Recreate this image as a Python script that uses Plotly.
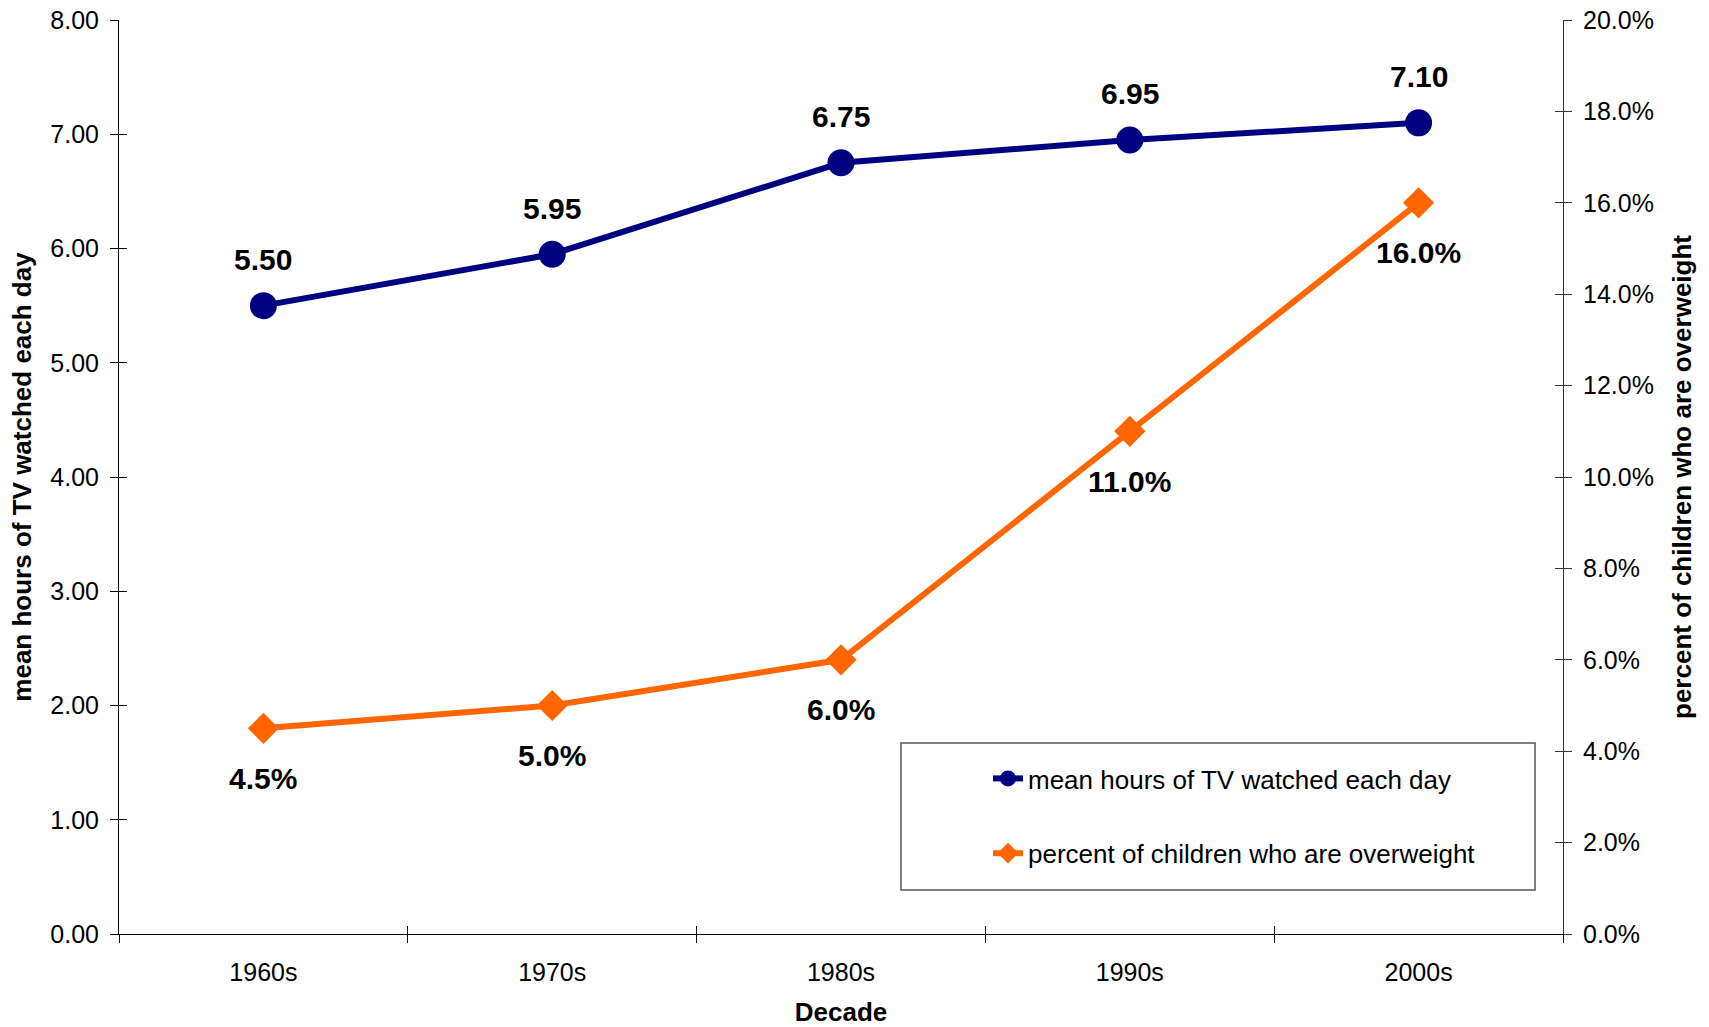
import plotly.graph_objects as go

# Data
decades = ["1960s", "1970s", "1980s", "1990s", "2000s"]
tv_hours = [5.50, 5.95, 6.75, 6.95, 7.10]
overweight_pct = [4.5, 5.0, 6.0, 11.0, 16.0]

left_ticks = [0, 1, 2, 3, 4, 5, 6, 7, 8]
right_ticks = [0, 2, 4, 6, 8, 10, 12, 14, 16, 18, 20]

NAVY = "#000080"
ORANGE = "#FF6600"
FONT = "Liberation Sans, Arial, Helvetica, sans-serif"

W, H = 1709, 1027
ML, MR, MT, MB = 119, 146, 20, 93
PW, PH = W - ML - MR, H - MT - MB

fig = go.Figure()

fig.add_trace(go.Scatter(
    x=decades, y=tv_hours, name="mean hours of TV watched each day",
    mode="lines+markers",
    line=dict(color=NAVY, width=6),
    marker=dict(symbol="circle", size=27, color=NAVY),
    legendgroup="a", xaxis="x", yaxis="y",
))

fig.add_trace(go.Scatter(
    x=decades, y=overweight_pct, name="percent of children who are overweight",
    mode="lines+markers",
    line=dict(color=ORANGE, width=6),
    marker=dict(symbol="diamond", size=24, color=ORANGE),
    legendgroup="b", xaxis="x", yaxis="y2",
))

# Empty helper traces so the inner-tick overlay axes get drawn
fig.add_trace(go.Scatter(x=[None], y=[None], xaxis="x2", yaxis="y3",
                         showlegend=False, hoverinfo="skip"))
fig.add_trace(go.Scatter(x=[None], y=[None], xaxis="x2", yaxis="y4",
                         showlegend=False, hoverinfo="skip"))

# Value labels: above the TV points, below the overweight points
label_font = dict(family=FONT, size=30, color="black", weight="bold")
for d, v in zip(decades, tv_hours):
    fig.add_annotation(x=d, y=v, xref="x", yref="y", text=f"{v:.2f}",
                       showarrow=False, yshift=46, font=label_font)
for d, v in zip(decades, overweight_pct):
    fig.add_annotation(x=d, y=v, xref="x", yref="y2", text=f"{v:.1f}%",
                       showarrow=False, yshift=-50, font=label_font)

tick_font = dict(family=FONT, size=25, color="black")
title_font = dict(family=FONT, size=26, color="black", weight="bold")

fig.update_layout(
    width=W, height=H,
    margin=dict(l=ML, r=MR, t=MT, b=MB, autoexpand=False),
    paper_bgcolor="white", plot_bgcolor="white",
    font=dict(family=FONT, color="black"),
    xaxis=dict(
        type="category", categoryorder="array", categoryarray=decades,
        range=[-0.5, 4.5], tickson="boundaries", automargin=False,
        ticks="outside", ticklen=8, tickwidth=1, tickcolor="black",
        showline=True, linecolor="black", linewidth=1,
        showgrid=False, zeroline=False,
        tickfont=tick_font, ticklabelstandoff=16,
        title=dict(text="Decade", font=title_font, standoff=23),
    ),
    xaxis2=dict(
        overlaying="x", range=[-0.5, 4.5], automargin=False,
        tickvals=[-0.5, 0.5, 1.5, 2.5, 3.5, 4.5],
        ticks="inside", ticklen=8, tickwidth=1, tickcolor="black",
        showticklabels=False, showgrid=False, zeroline=False, showline=False,
    ),
    yaxis=dict(
        range=[0, 8], tickvals=left_ticks,
        ticktext=[f"{v:.2f}" for v in left_ticks], automargin=False,
        ticks="outside", ticklen=8, tickwidth=1, tickcolor="black",
        showline=True, linecolor="black", linewidth=1,
        showgrid=False, zeroline=False,
        tickfont=tick_font, ticklabelstandoff=6,
        title=dict(text="mean hours of TV watched each day", font=title_font, standoff=11),
    ),
    yaxis2=dict(
        overlaying="y", side="right", anchor="x",
        range=[0, 20], tickvals=right_ticks,
        ticktext=[f"{v:.1f}%" for v in right_ticks], automargin=False,
        ticks="outside", ticklen=8, tickwidth=1, tickcolor="#333333",
        showline=True, linecolor="#333333", linewidth=1,
        showgrid=False, zeroline=False,
        tickfont=tick_font, ticklabelstandoff=6,
        title=dict(text="percent of children who are overweight", font=title_font, standoff=19),
    ),
    yaxis3=dict(
        overlaying="y", anchor="x2", side="left", range=[0, 8], tickvals=left_ticks,
        ticks="inside", ticklen=8, tickwidth=1, tickcolor="black", automargin=False,
        showticklabels=False, showgrid=False, zeroline=False, showline=False,
    ),
    yaxis4=dict(
        overlaying="y", anchor="x2", side="right", range=[0, 20], tickvals=right_ticks,
        ticks="inside", ticklen=8, tickwidth=1, tickcolor="#333333", automargin=False,
        showticklabels=False, showgrid=False, zeroline=False, showline=False,
    ),
    showlegend=True,
    legend=dict(
        x=(988 - ML) / PW, y=(934 - 755) / PH,
        xanchor="left", yanchor="top",
        bgcolor="rgba(0,0,0,0)", borderwidth=0,
        font=dict(family=FONT, size=26, color="black"),
        traceorder="grouped", tracegroupgap=38, itemwidth=30,
    ),
)

# Legend frame
fig.add_shape(type="rect", xref="paper", yref="paper",
              x0=(901 - ML) / PW, x1=(1535 - ML) / PW,
              y0=(934 - 890) / PH, y1=(934 - 743) / PH,
              line=dict(color="#555555", width=1.5), fillcolor="rgba(0,0,0,0)")

fig.write_html("out.html")
